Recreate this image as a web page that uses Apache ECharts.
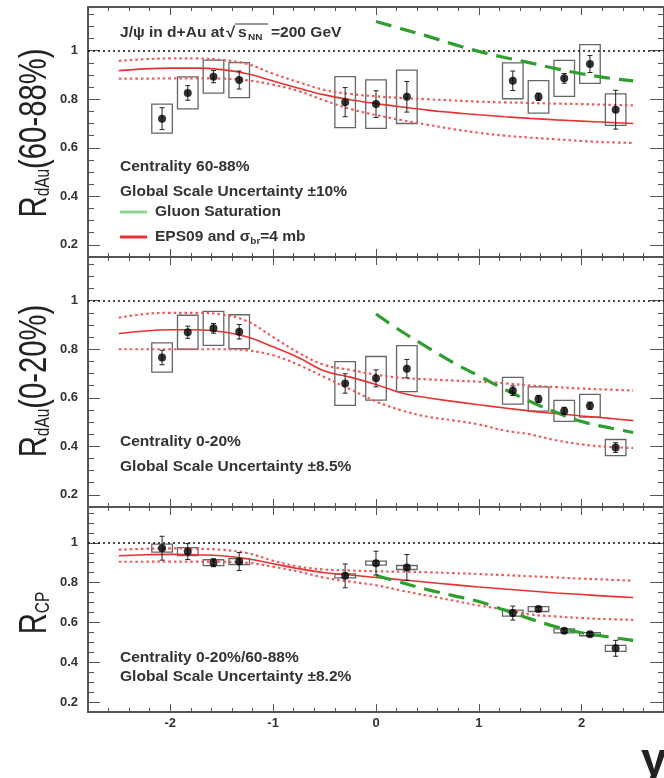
<!DOCTYPE html>
<html>
<head>
<meta charset="utf-8">
<script src="https://cdn.jsdelivr.net/npm/echarts@6/dist/echarts.min.js"></script>
<style>
  html, body { margin: 0; padding: 0; background: #fff; }
  #chart { width: 664px; height: 778px; }
</style>
</head>
<body>
<div id="chart"></div>
<script>
// J/psi nuclear modification factors versus rapidity, d+Au at 200 GeV

// rapidity bin centres of the measured points
const rapidity = [-2.08, -1.83, -1.58, -1.33, -0.3, 0.0, 0.3, 1.33, 1.58, 1.83, 2.08, 2.33];

// R_dAu, centrality 60-88%
const rdauPeriph     = [0.72, 0.826, 0.893, 0.879, 0.788, 0.78, 0.81, 0.876, 0.81, 0.886, 0.945, 0.757];
const rdauPeriphStat = [0.045, 0.03, 0.025, 0.037, 0.06, 0.055, 0.063, 0.04, 0.015, 0.02, 0.035, 0.08];
const rdauPeriphSys  = [0.06, 0.066, 0.068, 0.072, 0.105, 0.1, 0.11, 0.074, 0.067, 0.074, 0.08, 0.065];

// R_dAu, centrality 0-20%
const rdauCentral     = [0.766, 0.87, 0.886, 0.872, 0.659, 0.68, 0.72, 0.629, 0.595, 0.546, 0.567, 0.395];
const rdauCentralStat = [0.03, 0.025, 0.02, 0.03, 0.04, 0.035, 0.038, 0.02, 0.015, 0.015, 0.015, 0.02];
const rdauCentralSys  = [0.06, 0.07, 0.07, 0.07, 0.09, 0.09, 0.095, 0.055, 0.05, 0.043, 0.047, 0.033];

// R_CP, 0-20% / 60-88%
const rcp     = [0.973, 0.956, 0.90, 0.906, 0.834, 0.898, 0.876, 0.647, 0.667, 0.558, 0.541, 0.47];
const rcpStat = [0.06, 0.04, 0.02, 0.045, 0.06, 0.06, 0.065, 0.035, 0.01, 0.01, 0.01, 0.04];
const rcpSys  = [0.02, 0.02, 0.015, 0.015, 0.01, 0.01, 0.01, 0.015, 0.012, 0.01, 0.008, 0.015];

// model curves: EPS09 shadowing + sigma_br = 4 mb (central value and band edges)
const modelRap = [-2.5, -2.25, -2, -1.75, -1.5, -1.25, -1, -0.75, -0.5, -0.25, 0, 0.25, 0.5, 0.75, 1, 1.25, 1.5, 1.75, 2, 2.25, 2.5];

const eps09PeriphMid = [0.918, 0.925, 0.928, 0.928, 0.922, 0.905, 0.875, 0.845, 0.818, 0.798, 0.782, 0.768, 0.755, 0.745, 0.736, 0.728, 0.721, 0.715, 0.71, 0.705, 0.70];
const eps09PeriphHi  = [0.958, 0.965, 0.968, 0.968, 0.962, 0.945, 0.905, 0.87, 0.838, 0.822, 0.812, 0.805, 0.80, 0.795, 0.79, 0.787, 0.785, 0.782, 0.78, 0.777, 0.775];
const eps09PeriphLo  = [0.885, 0.885, 0.886, 0.886, 0.885, 0.878, 0.86, 0.833, 0.795, 0.76, 0.735, 0.714, 0.695, 0.677, 0.662, 0.65, 0.642, 0.635, 0.628, 0.623, 0.62];

const eps09CentralMid = [0.865, 0.875, 0.88, 0.88, 0.872, 0.85, 0.81, 0.765, 0.71, 0.685, 0.655, 0.62, 0.60, 0.585, 0.571, 0.558, 0.545, 0.535, 0.525, 0.516, 0.506];
const eps09CentralHi  = [0.93, 0.945, 0.95, 0.95, 0.943, 0.915, 0.85, 0.785, 0.735, 0.715, 0.695, 0.682, 0.676, 0.671, 0.666, 0.66, 0.65, 0.644, 0.638, 0.634, 0.63];
const eps09CentralLo  = [0.80, 0.80, 0.80, 0.80, 0.80, 0.795, 0.775, 0.735, 0.685, 0.635, 0.585, 0.548, 0.522, 0.507, 0.49, 0.465, 0.449, 0.425, 0.408, 0.398, 0.393];

const eps09RcpMid = [0.935, 0.94, 0.942, 0.94, 0.935, 0.92, 0.895, 0.87, 0.85, 0.838, 0.826, 0.814, 0.802, 0.79, 0.778, 0.768, 0.758, 0.748, 0.74, 0.732, 0.725];
const eps09RcpHi  = [0.965, 0.97, 0.972, 0.97, 0.965, 0.948, 0.91, 0.88, 0.866, 0.861, 0.857, 0.855, 0.852, 0.848, 0.843, 0.838, 0.832, 0.826, 0.82, 0.815, 0.81];
const eps09RcpLo  = [0.905, 0.905, 0.906, 0.906, 0.905, 0.90, 0.88, 0.855, 0.825, 0.805, 0.787, 0.76, 0.735, 0.71, 0.685, 0.665, 0.64, 0.63, 0.622, 0.617, 0.613];

// gluon saturation (CGC) curves, forward rapidity only
const gluonRap     = [0, 0.25, 0.5, 0.75, 1, 1.25, 1.5, 1.75, 2, 2.25, 2.5];
const gluonPeriph  = [1.12, 1.09, 1.06, 1.027, 0.997, 0.972, 0.95, 0.926, 0.905, 0.888, 0.876];
const gluonCentral = [0.945, 0.873, 0.808, 0.745, 0.69, 0.635, 0.585, 0.54, 0.502, 0.478, 0.457];
const gluonRcp     = [0.835, 0.80, 0.765, 0.735, 0.705, 0.662, 0.618, 0.578, 0.548, 0.528, 0.51];

// axis ticks
const xMajorTicks = [-2, -1, 0, 1, 2];
const yMajorTicks = [0.2, 0.4, 0.6, 0.8, 1];
const xMinorTicks = [];
for (let i = -14; i <= 14; i++) xMinorTicks.push(+(i * 0.2).toFixed(1));
const yMinorTicks = [];
for (let i = 3; i <= 23; i++) yMinorTicks.push(+(i * 0.05).toFixed(2));

const X_MIN = -2.8, X_MAX = 2.8, Y_MIN = 0.15, Y_MAX = 1.18;
const FONT = '"Liberation Sans", Arial, Helvetica, sans-serif';
const TEXT = '#333';
const AXIS = '#555';
const RED = '#e83232';
const RED_DOT = '#f05a5a';
const GREEN = '#2f9e2f';
const BOX_HALF = 0.1;
const TEXT_STRETCH = 1.11;   // ROOT-style wide lettering
const TITLE_SQUEEZE = 0.77;  // narrow lettering of the rotated axis titles

const panels = [
  { top: 7,   height: 250, data: rdauPeriph,  stat: rdauPeriphStat,  sys: rdauPeriphSys,
    mid: eps09PeriphMid, hi: eps09PeriphHi, lo: eps09PeriphLo, cgc: gluonPeriph, labelsX: false },
  { top: 257, height: 250, data: rdauCentral, stat: rdauCentralStat, sys: rdauCentralSys,
    mid: eps09CentralMid, hi: eps09CentralHi, lo: eps09CentralLo, cgc: gluonCentral, labelsX: false },
  { top: 507, height: 205, data: rcp, stat: rcpStat, sys: rcpSys,
    mid: eps09RcpMid, hi: eps09RcpHi, lo: eps09RcpLo, cgc: gluonRcp, labelsX: true }
];

function xAxisDef(g, position, ticks, len, showLabel, showLine) {
  return {
    type: 'value', gridIndex: g, position, min: X_MIN, max: X_MAX,
    axisLine: { show: showLine, onZero: false, lineStyle: { color: AXIS, width: 2 } },
    axisTick: { show: true, inside: true, length: len, customValues: ticks, lineStyle: { color: AXIS, width: 1 } },
    axisLabel: { show: showLabel, customValues: xMajorTicks, margin: 5, color: TEXT,
                 fontSize: 13, fontWeight: 'bold', fontFamily: FONT },
    splitLine: { show: false }
  };
}

function yAxisDef(g, position, ticks, len, showLabel, showLine) {
  return {
    type: 'value', gridIndex: g, position, min: Y_MIN, max: Y_MAX,
    axisLine: { show: showLine, onZero: false, lineStyle: { color: AXIS, width: 2 } },
    axisTick: { show: true, inside: true, length: len, customValues: ticks, lineStyle: { color: AXIS, width: 1 } },
    axisLabel: { show: showLabel, customValues: yMajorTicks, margin: 10, color: TEXT,
                 fontSize: 13, fontWeight: 'bold', fontFamily: FONT,
                 formatter: v => String(+v.toFixed(2)) },
    splitLine: { show: false }
  };
}

const grid = [], xAxis = [], yAxis = [], series = [];

panels.forEach((p, g) => {
  grid.push({ left: 88, width: 577, top: p.top, height: p.height });

  xAxis.push(xAxisDef(g, 'bottom', xMajorTicks, 8, p.labelsX, true));
  xAxis.push(xAxisDef(g, 'bottom', xMinorTicks, 4, false, false));
  xAxis.push(xAxisDef(g, 'top', xMajorTicks, 8, false, true));
  xAxis.push(xAxisDef(g, 'top', xMinorTicks, 4, false, false));

  yAxis.push(yAxisDef(g, 'left', yMajorTicks, 12, true, true));
  yAxis.push(yAxisDef(g, 'left', yMinorTicks, 6, false, false));
  yAxis.push(yAxisDef(g, 'right', yMajorTicks, 14, false, true));
  yAxis.push(yAxisDef(g, 'right', yMinorTicks, 6, false, false));

  const xi = g * 4, yi = g * 4;

  // systematic uncertainty boxes
  series.push({
    type: 'custom', xAxisIndex: xi, yAxisIndex: yi, silent: true, z: 3,
    data: rapidity.map((x, i) => [x, p.data[i], p.sys[i]]),
    encode: { x: 0, y: 1 },
    renderItem: (params, api) => {
      const x = api.value(0), y = api.value(1), s = api.value(2);
      const a = api.coord([x - BOX_HALF, y + s]);
      const b = api.coord([x + BOX_HALF, y - s]);
      return { type: 'rect',
               shape: { x: a[0], y: a[1], width: b[0] - a[0], height: b[1] - a[1] },
               style: { fill: 'none', stroke: '#666', lineWidth: 1.3 } };
    }
  });

  // model curves
  const curve = (name, vals, xs, color, type, width, z) => ({
    type: 'line', name, xAxisIndex: xi, yAxisIndex: yi, silent: true, z,
    data: xs.map((x, i) => [x, vals[i]]),
    showSymbol: false, smooth: 0.4,
    lineStyle: { color, type, width, cap: 'butt' },
    itemStyle: { color }
  });
  series.push(curve('EPS09 upper', p.hi, modelRap, RED_DOT, [2.5, 3], 2.2, 4));
  series.push(curve('EPS09 lower', p.lo, modelRap, RED_DOT, [2.5, 3], 2.2, 4));
  series.push(curve('EPS09', p.mid, modelRap, RED, 'solid', 1.6, 5));
  series.push(curve('Gluon Saturation', p.cgc, gluonRap, GREEN, [16, 9], 3.2, 6));

  // statistical error bars
  series.push({
    type: 'custom', xAxisIndex: xi, yAxisIndex: yi, silent: true, z: 7,
    data: rapidity.map((x, i) => [x, p.data[i], p.stat[i]]),
    encode: { x: 0, y: 1 },
    renderItem: (params, api) => {
      const x = api.value(0), y = api.value(1), s = api.value(2);
      const hi = api.coord([x, y + s]), lo = api.coord([x, y - s]);
      const st = { stroke: '#222', lineWidth: 1 };
      return { type: 'group', children: [
        { type: 'line', shape: { x1: hi[0], y1: hi[1], x2: lo[0], y2: lo[1] }, style: st },
        { type: 'line', shape: { x1: hi[0] - 2.5, y1: hi[1], x2: hi[0] + 2.5, y2: hi[1] }, style: st },
        { type: 'line', shape: { x1: lo[0] - 2.5, y1: lo[1], x2: lo[0] + 2.5, y2: lo[1] }, style: st }
      ] };
    }
  });

  // measured points, with the unity reference line
  series.push({
    type: 'scatter', xAxisIndex: xi, yAxisIndex: yi, silent: true, z: 8,
    data: rapidity.map((x, i) => [x, p.data[i]]),
    symbol: 'circle', symbolSize: 8,
    itemStyle: { color: '#000' },
    markLine: {
      silent: true, symbol: 'none', label: { show: false },
      lineStyle: { color: '#111', type: [2, 3], width: 1.5 },
      data: [{ yAxis: 1 }]
    }
  });
});

// annotation text helpers
const subStyle = { fontFamily: FONT, fontWeight: 'bold', fontSize: 9, fill: TEXT, padding: [10, 0, 0, 0] };
const txt = (x, y, text, size) => ({
  type: 'text', x, y, silent: true, scaleX: TEXT_STRETCH,
  style: { text, fill: TEXT, fontFamily: FONT, fontWeight: 'bold', fontSize: size || 14,
           verticalAlign: 'middle', rich: { sub: subStyle } }
});
const titleRich = {
  r: { fontFamily: FONT, fontSize: 38, fill: '#222', lineHeight: 44 },
  s: { fontFamily: FONT, fontSize: 20, fill: '#222', lineHeight: 44, padding: [14, 0, 0, 0] }
};
const axisTitle = (x, y, text) => ({
  type: 'text', x, y, rotation: Math.PI / 2, scaleX: TITLE_SQUEEZE, silent: true,
  style: { text, align: 'center', verticalAlign: 'middle', rich: titleRich }
});
const legendLine = (y, color) => ({
  type: 'line', silent: true, shape: { x1: 120, y1: y, x2: 147, y2: y },
  style: { stroke: color, lineWidth: 3 }
});

const option = {
  backgroundColor: '#fff',
  animation: false,
  grid, xAxis, yAxis, series,
  graphic: [
    axisTitle(36, 133, '{r|R}{s|dAu}{r|(60-88%)}'),
    axisTitle(36, 381, '{r|R}{s|dAu}{r|(0-20%)}'),
    axisTitle(36, 613, '{r|R}{s|CP}'),

    txt(120, 33, 'J/ψ in d+Au at'),
    txt(226, 33, '√', 15),
    txt(238, 33, 's'),
    txt(248, 33, '{sub|NN}'),
    { type: 'line', silent: true, shape: { x1: 235, y1: 24, x2: 268, y2: 24 }, style: { stroke: TEXT, lineWidth: 1 } },
    txt(271, 33, '=200 GeV'),

    txt(120, 167, 'Centrality 60-88%'),
    txt(120, 192, 'Global Scale Uncertainty ±10%'),
    legendLine(212, '#8fd48f'),
    txt(155, 212, 'Gluon Saturation'),
    legendLine(237, RED),
    txt(155, 237, 'EPS09 and σ{sub|br}=4 mb'),

    txt(120, 442, 'Centrality 0-20%'),
    txt(120, 467, 'Global Scale Uncertainty ±8.5%'),
    txt(120, 658, 'Centrality 0-20%/60-88%'),
    txt(120, 677, 'Global Scale Uncertainty ±8.2%'),

    { type: 'text', x: 641, y: 762, silent: true,
      style: { text: 'y', fill: '#222', fontFamily: FONT, fontWeight: 'bold', fontSize: 46, verticalAlign: 'middle' } }
  ]
};

const chart = echarts.init(document.getElementById('chart'), null, { renderer: 'canvas' });
chart.setOption(option);
</script>
</body>
</html>
